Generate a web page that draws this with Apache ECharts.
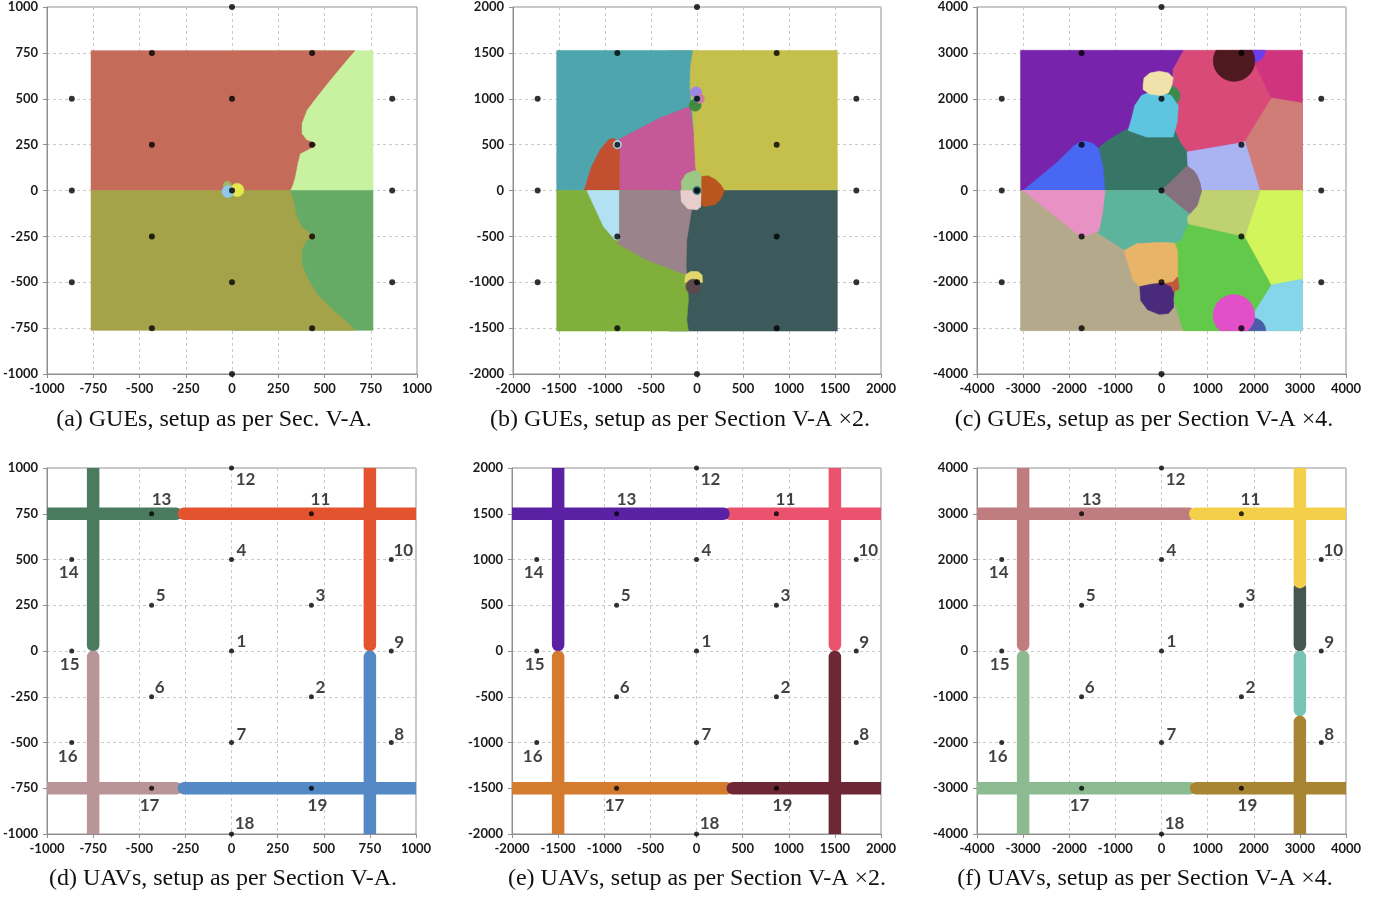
<!DOCTYPE html>
<html><head><meta charset="utf-8">
<script src="https://cdn.jsdelivr.net/npm/echarts@6/dist/echarts.min.js"></script>
<style>html,body{margin:0;background:#fff}#c{width:1385px;height:900px}</style>
</head><body><div id="c"></div>
<script>
// ---------- base-station positions (one array per scale) ----------
const bsLabels = ['1','2','3','4','5','6','7','8','9','10','11','12','13','14','15','16','17','18','19'];
const bsX1 = [0,433,433,0,-433,-433,0,866,866,866,433,0,-433,-866,-866,-866,-433,0,433];
const bsY1 = [0,-250,250,500,250,-250,-500,-500,0,500,750,1000,750,500,0,-500,-750,-1000,-750];
const bsX2 = [0,866,866,0,-866,-866,0,1732,1732,1732,866,0,-866,-1732,-1732,-1732,-866,0,866];
const bsY2 = [0,-500,500,1000,500,-500,-1000,-1000,0,1000,1500,2000,1500,1000,0,-1000,-1500,-2000,-1500];
const bsX4 = [0,1732,1732,0,-1732,-1732,0,3464,3464,3464,1732,0,-1732,-3464,-3464,-3464,-1732,0,1732];
const bsY4 = [0,-1000,1000,2000,1000,-1000,-2000,-2000,0,2000,3000,4000,3000,2000,0,-2000,-3000,-4000,-3000];

// ---------- axis ranges / ticks ----------
const axisMin = [-1000,-2000,-4000];
const axisMax = [1000,2000,4000];
const axisStep = [250,500,1000];
const squareHalf = [762,1525,3055];

// ---------- panel (a) GUE association regions ----------
const a_ne = [[0,0],[762,0],[762,762],[0,762]];
const a_se = [[0,0],[762,0],[762,-762],[0,-762]];
const a_nw = [[-762,0],[-762,762],[664,762],[619,710],[529,601],[457,510],[403,437],[376,365],[376,310],[403,274],[440,262],[455,250],[440,238],[403,220],[367,201],[354,147],[340,74],[327,29],[313,0]];
const a_sw = [[-762,0],[313,0],[331,-53],[349,-143],[376,-198],[420,-232],[455,-250],[440,-262],[403,-270],[376,-325],[376,-397],[403,-470],[457,-561],[547,-652],[619,-715],[664,-762],[-762,-762]];
const a_blobs = [[-25,28,22],[28,3,36],[-22,-6,32]];

// ---------- panel (b) ----------
const b_ne = [[-300,0],[1525,0],[1525,1525],[-300,1525]];
const b_teal = [[-1525,0],[-1525,1525],[-50,1525],[-76,1353],[-83,1135],[-60,920],[-40,600],[-843,400],[-1226,0]];
const b_pink = [[-854,553],[-401,790],[-76,916],[-40,625],[-22,262],[-10,150],[-100,50],[-166,0],[-843,0],[-843,516]];
const b_red = [[-1226,0],[-1150,250],[-1052,444],[-960,555],[-900,570],[-843,516],[-843,0]];
const b_se = [[-300,0],[1525,0],[1525,-1531],[-300,-1531]];
const b_sw = [[-1525,0],[-300,0],[-112,-920],[-100,-1050],[-94,-1193],[-112,-1411],[-94,-1531],[-1525,-1531]];
const b_lblue = [[-1197,0],[-843,0],[-843,-538],[-890,-538],[-1016,-393]];
const b_mauve = [[-843,0],[-166,0],[-58,-211],[-65,-247],[-112,-538],[-119,-829],[-112,-920],[-546,-756],[-872,-575],[-843,-538]];
const b_cUp = [[-166,0],[-170,100],[-120,180],[-40,215],[20,207],[51,153],[51,0]];
const b_cDown = [[-177,0],[-170,-120],[-100,-200],[0,-211],[40,-180],[51,0]];
const b_cRight = [[51,153],[120,160],[200,120],[260,60],[297,0],[260,-90],[200,-150],[87,-175],[51,-160]];
const b_s7up = [[-135,-1000],[-125,-920],[-70,-884],[10,-884],[55,-920],[61,-1000]];
const b_blobs = [[-40,-1047,80],[-10,1070,60],[-20,930,65],[30,1000,50],[0,1000,35],[-866,500,45],[0,0,45]];

// ---------- panel (c) ----------
const c_purple = [[-3055,0],[-3055,3055],[485,3055],[253,2633],[250,0]];
const c_rose = [[485,3055],[2200,3055],[2387,2014],[3055,1905],[3055,0],[250,0],[253,2633]];
const c_magenta = [[2025,3055],[3055,3055],[3055,1905],[2387,2014],[2025,2760]];
const c_salmon = [[2387,2014],[3055,1905],[3055,0],[2134,0],[1808,1069]];
const c_lav = [[543,837],[1700,1033],[1808,1069],[2134,0],[869,0],[840,150],[774,327],[700,430],[557,532]];
const c_grey = [[0,0],[557,532],[700,430],[774,327],[840,150],[869,-10],[774,-328],[615,-509]];
const c_teal = [[-1230,0],[-1266,500],[-1338,815],[-1374,924],[-1193,1069],[-904,1251],[-702,1360],[-500,1230],[-324,1165],[253,1165],[290,1309],[400,1050],[543,860],[557,532],[0,0]];
const c_blue = [[-3000,0],[-2640,300],[-2278,600],[-1917,960],[-1800,1040],[-1736,1070],[-1600,1060],[-1483,1018],[-1374,924],[-1338,815],[-1266,500],[-1230,0]];
const c_sky = [[-723,1309],[-650,1564],[-578,1854],[-433,2072],[-252,2146],[0,2110],[200,2080],[362,1854],[340,1500],[290,1309],[253,1165],[-324,1165]];
const c_beige = [[-398,2300],[-380,2450],[-250,2560],[-50,2600],[150,2560],[253,2460],[230,2300],[150,2130],[0,2072],[-252,2100],[-398,2200]];
const c_tanBase = [[-3055,0],[3055,0],[3055,-3055],[-3055,-3055]];
const c_pink = [[-3000,0],[-1210,0],[-1266,-495],[-1338,-858],[-1483,-931],[-1736,-1018]];
const c_sea = [[-1210,0],[0,0],[615,-509],[600,-700],[435,-1092],[300,-1150],[-542,-1185],[-796,-1295],[-1374,-931],[-1338,-858],[-1266,-495]];
const c_orange = [[-796,-1300],[-542,-1160],[0,-1130],[300,-1150],[362,-1350],[362,-1850],[250,-1980],[36,-2022],[-470,-2095],[-615,-1950],[-796,-1367]];
const c_dpurple = [[-470,-2095],[-200,-2040],[36,-2020],[200,-2100],[270,-2250],[260,-2550],[150,-2680],[-50,-2700],[-300,-2600],[-450,-2400]];
const c_green = [[579,-727],[1808,-1004],[2387,-2058],[2025,-2640],[2000,-3055],[470,-3055],[268,-2385],[300,-2200],[400,-2150],[362,-1850],[362,-1300],[300,-1150],[435,-1092]];
const c_lime = [[2134,0],[3055,0],[3055,-1935],[2387,-2058],[1808,-1004]];
const c_olive = [[869,0],[2134,0],[1808,-1004],[579,-727],[560,-600],[615,-509],[774,-328]];
const c_cyan = [[2387,-2058],[3055,-1935],[3055,-3055],[2025,-3055],[2025,-2640]];
const c_circGreen = [180,2060,220];
const c_circViolet = [1980,3060,270];
const c_circBrown = [1573,2830,450];
const c_circRust = [180,-2050,230];
const c_circNavy = [1980,-3060,280];
const c_circPink = [1570,-2720,450];

// ---------- UAV corridor segments [x1,y1,x2,y2] ----------
const d_segs = [[-1050,750,-300,750],[-258,750,1050,750],[-750,32,-750,1050],[-750,-1050,-750,-32],[750,32,750,1050],[750,-1050,750,-32],[-1050,-750,-300,-750],[-258,-750,1050,-750]];
const e_segs = [[357,1500,2100,1500],[-2100,1500,292,1500],[-1500,65,-1500,2100],[-1500,-2100,-1500,-65],[1500,65,1500,2100],[1500,-2100,1500,-65],[-2100,-1500,329,-1500],[394,-1500,2100,-1500]];
const f_segs = [[-4200,3000,600,3000],[730,3000,4200,3000],[-3000,130,-3000,4200],[-3000,-4200,-3000,-130],[3000,130,3000,1375],[3000,1505,3000,4200],[3000,-1290,3000,-130],[3000,-4200,3000,-1549],[-4200,-3000,620,-3000],[750,-3000,4200,-3000]];

// ---------- styling ----------
const d_cols = ['#4a7b5f','#e2532e','#4a7b5f','#b99598','#e2532e','#5589c6','#b99598','#5589c6'];
const e_cols = ['#ea526e','#5b21a5','#5b21a5','#d47b2e','#ea526e','#6e2734','#d47b2e','#6e2734'];
const f_cols = ['#c07d80','#f4d04a','#c07d80','#8cba91','#45574f','#f4d04a','#78c5b7','#a88533','#8cba91','#a88533'];
const labelOffsets = [[10,-9],[9,-9],[9,-10],[10,-9],[9,-10],[8,-9],[10,-8],[8,-8],[8,-8],[12,-9],[9,-14],[14,12],[10,-14],[-3,13],[-2,14],[-4,14],[-2,17],[13,-10],[6,17]];

const layersA = [
  {p:a_ne,f:'#c8f1a0'},{p:a_se,f:'#66ab65'},{p:a_nw,f:'#c46b5a'},{p:a_sw,f:'#a5a34a'},
  {c:a_blobs[0],f:'#9bb86a'},{c:a_blobs[1],f:'#e6e64e'},{c:a_blobs[2],f:'#8ec8e8'}
];
const layersB = [
  {p:b_ne,f:'#c5bf4c'},{p:b_teal,f:'#4fa5ad'},{p:b_pink,f:'#c55896'},{p:b_red,f:'#c24f30'},
  {p:b_se,f:'#3c5a5c'},{p:b_sw,f:'#80b03b'},{p:b_lblue,f:'#b3e1f4'},{p:b_mauve,f:'#9a838b'},
  {p:b_cUp,f:'#9dc785'},{p:b_cDown,f:'#e8cdcd'},{p:b_cRight,f:'#b9561e'},
  {p:b_s7up,f:'#e3d66a'},{c:b_blobs[0],f:'#5a4a4e'},
  {c:b_blobs[1],f:'#9d86e8'},{c:b_blobs[2],f:'#3f8a3c'},{c:b_blobs[3],f:'#d07aa0'},{c:b_blobs[4],f:'#5a8fd0'},
  {c:b_blobs[5],f:'#b3e1f4'},{c:b_blobs[6],f:'#3a6f7a'}
];
const layersC = [
  {p:c_purple,f:'#7723ac'},{p:c_rose,f:'#d94a78'},{p:c_magenta,f:'#cf347f'},{p:c_salmon,f:'#d07c77'},
  {p:c_lav,f:'#aab4f2'},{p:c_teal,f:'#377667'},{p:c_blue,f:'#4867f2'},
  {c:c_circGreen,f:'#3b8b4e'},{p:c_sky,f:'#5ec5e0'},{p:c_beige,f:'#f1e2ac'},
  {c:c_circViolet,f:'#6b3ff0'},{c:c_circBrown,f:'#4e1a1f'},
  {p:c_tanBase,f:'#b5a98b'},{p:c_pink,f:'#e891c4'},{p:c_sea,f:'#5bb49b'},
  {c:c_circRust,f:'#c15a3d'},{p:c_orange,f:'#e8b568'},{p:c_dpurple,f:'#4a2a7b'},
  {p:c_green,f:'#63c94b'},{p:c_lime,f:'#d1f55a'},{p:c_olive,f:'#bfd171'},{p:c_grey,f:'#84707f'},
  {p:c_cyan,f:'#85d6ea'},{c:c_circNavy,f:'#4a5ba9'},{c:c_circPink,f:'#e14fc9'}
];

const grids = [
  {left:47, top:7, width:370, height:367},
  {left:513, top:7, width:368, height:367},
  {left:977, top:7, width:369, height:367},
  {left:46, top:468, width:370, height:366},
  {left:512, top:468, width:369, height:366},
  {left:977, top:468, width:369, height:366}
].map(g => Object.assign(g, {show:true, borderColor:'#8f8f8f', borderWidth:1, containLabel:false}));

function mkAxis(gi, col, isX) {
  return {
    type:'value', gridIndex:gi, min:axisMin[col], max:axisMax[col], interval:axisStep[col],
    axisLine:{show:true, onZero:false, lineStyle:{color:'#8f8f8f', width:1}},
    axisTick:{show:true, length:4, lineStyle:{color:'#8f8f8f'}},
    splitLine:{show:true, lineStyle:{color:'#c9c9c9', type:[3,3], width:1}},
    axisLabel:{color:'#1a1a1a', fontFamily:'Lato', fontWeight:'bold', fontSize:13, margin: isX ? 8 : 9,
      formatter: v => String(v)}
  };
}
const xAxis = [], yAxis = [];
for (let i = 0; i < 6; i++) { xAxis.push(mkAxis(i, i % 3, true)); yAxis.push(mkAxis(i, i % 3, false)); }

function circlePts(c, S) {
  const pts = [];
  for (let k = 0; k < 60; k++) {
    const t = k / 60 * 2 * Math.PI;
    let x = c[0] + c[2] * Math.cos(t), y = c[1] + c[2] * Math.sin(t);
    x = Math.max(-S, Math.min(S, x)); y = Math.max(-S, Math.min(S, y));
    pts.push([x, y]);
  }
  return pts;
}
function regionSeries(gi, layers, S) {
  return {
    type:'custom', xAxisIndex:gi, yAxisIndex:gi, silent:true, z:1,
    data: layers.map(() => [0, 0]),
    renderItem: (params, api) => {
      const L = layers[params.dataIndex];
      const pts = L.p ? L.p : circlePts(L.c, S);
      return {type:'polygon', shape:{points: pts.map(p => api.coord(p))}, style:{fill:L.f, stroke:L.f, lineWidth:0.6}};
    }
  };
}
function dotSeries(gi, xs, ys, size, withLabels) {
  return {
    type:'scatter', xAxisIndex:gi, yAxisIndex:gi, z:5, symbolSize:size, silent:true,
    itemStyle:{color:'#000'},
    data: xs.map((x, i) => {
      const d = {value:[x, ys[i]]};
      if (withLabels) d.label = {show:true, position:'inside', offset:labelOffsets[i], formatter: bsLabels[i],
        color:'#111', fontFamily:'Lato', fontWeight:'bold', fontSize:17};
      return d;
    })
  };
}
function corridorSeries(gi, segs, cols) {
  return {
    type:'custom', xAxisIndex:gi, yAxisIndex:gi, z:3, silent:true,
    data: segs.map(() => [0, 0]),
    renderItem: (params, api) => {
      const s = segs[params.dataIndex];
      const p1 = api.coord([s[0], s[1]]), p2 = api.coord([s[2], s[3]]);
      const cs = params.coordSys;
      return {type:'line', shape:{x1:p1[0], y1:p1[1], x2:p2[0], y2:p2[1]},
        style:{stroke:cols[params.dataIndex], lineWidth:12.5, lineCap:'round'},
        clipPath:{type:'rect', shape:{x:cs.x, y:cs.y, width:cs.width, height:cs.height}}};
    }
  };
}

const series = [
  regionSeries(0, layersA, squareHalf[0]),
  regionSeries(1, layersB, squareHalf[1]),
  regionSeries(2, layersC, squareHalf[2]),
  dotSeries(0, bsX1, bsY1, 6, false),
  dotSeries(1, bsX2, bsY2, 6, false),
  dotSeries(2, bsX4, bsY4, 6, false),
  corridorSeries(3, d_segs, d_cols),
  corridorSeries(4, e_segs, e_cols),
  corridorSeries(5, f_segs, f_cols),
  dotSeries(3, bsX1, bsY1, 5, true),
  dotSeries(4, bsX2, bsY2, 5, true),
  dotSeries(5, bsX4, bsY4, 5, true)
];

const captions = [
  ['(a) GUEs, setup as per Sec. V-A.', 214, 420],
  ['(b) GUEs, setup as per Section V-A \u00d72.', 680, 420],
  ['(c) GUEs, setup as per Section V-A \u00d74.', 1144, 420],
  ['(d) UAVs, setup as per Section V-A.', 223, 879],
  ['(e) UAVs, setup as per Section V-A \u00d72.', 697, 879],
  ['(f) UAVs, setup as per Section V-A \u00d74.', 1145, 879]
];

const chart = echarts.init(document.getElementById('c'), null, {renderer:'canvas'});
chart.setOption({
  animation:false,
  backgroundColor:'#fff',
  grid:grids, xAxis, yAxis, series,
  graphic: captions.map(c => ({type:'text', x:c[1], y:c[2], style:{text:c[0], fill:'#111',
    font:'24px "Liberation Serif"', textAlign:'center', textVerticalAlign:'middle'}}))
});
</script></body></html>
